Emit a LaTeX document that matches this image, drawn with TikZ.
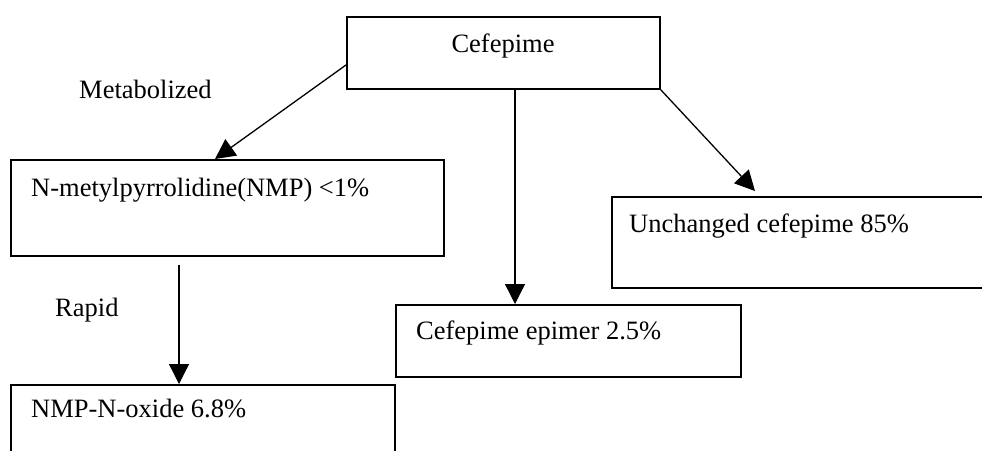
\documentclass[tikz,border=0pt]{standalone}
\usepackage{fontspec}
\setmainfont{Liberation Serif}
\usetikzlibrary{arrows.meta,calc}
\begin{document}
\begin{tikzpicture}[x=1pt,y=-1pt,
  box/.style={draw,line width=1.6pt,rectangle,inner sep=0pt,anchor=north west},
  lbl/.style={inner sep=0pt,anchor=base west,font=\fontsize{26.5}{30}\selectfont},
  arr/.style={line width=1.3pt,-{Triangle[length=20pt,width=20pt]}}]
\useasboundingbox (0,0) rectangle (982,450);
\begin{scope}
\clip (0,0) rectangle (982,450);
% boxes
\node[box,minimum width=313pt,minimum height=72pt] (cef) at (346,16) {};
\node[box,minimum width=433pt,minimum height=96pt] (nmp) at (10,159) {};
\node[box,minimum width=384pt,minimum height=100pt] (oxide) at (10,384) {};
\node[box,minimum width=345pt,minimum height=72pt] (epi) at (395,304) {};
\node[box,minimum width=400pt,minimum height=91pt] (unch) at (611,196) {};
% texts
\node[lbl,anchor=base] (tcef) at ($(cef.north west)+(157,36)$) {Cefepime};
\node[lbl] (tnmp) at ($(nmp.north west)+(21,37)$) {N-metylpyrrolidine(NMP) <1\%};
\node[lbl] (toxide) at ($(oxide.north west)+(21,33)$) {NMP-N-oxide 6.8\%};
\node[lbl] (tepi) at ($(epi.north west)+(21,35)$) {Cefepime epimer 2.5\%};
\node[lbl] (tunch) at ($(unch.north west)+(18,36)$) {Unchanged cefepime 85\%};
\node[lbl] (tmet) at (79,98) {Metabolized};
\node[lbl] (trap) at (55,316) {Rapid};
% connector points
\coordinate (c1) at ($(cef.north west)+(0,49)$);
\coordinate (n1) at ($(nmp.north west)+(205,0)$);
\coordinate (n2) at ($(nmp.south west)+(169,8)$);
\coordinate (o1) at ($(oxide.north west)+(169,0)$);
\coordinate (c2) at ($(cef.south west)+(169,0)$);
\coordinate (e1) at ($(epi.north west)+(120,0)$);
\coordinate (u1) at ($(unch.north west)+(144,-5)$);
% arrows
\draw[arr] (c1) -- (n1);
\draw[arr] (n2) -- (o1);
\draw[arr] (c2) -- (e1);
\draw[arr] (cef.south east) -- (u1);
\end{scope}
\end{tikzpicture}
\end{document}
